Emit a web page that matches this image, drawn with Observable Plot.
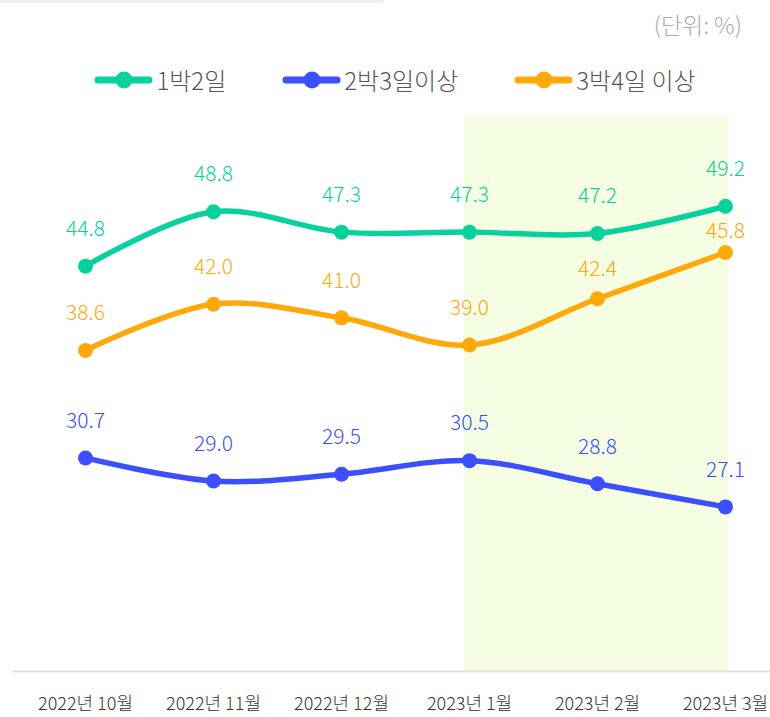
<!DOCTYPE html>
<html><head><meta charset="utf-8">
<script src="https://cdn.jsdelivr.net/npm/d3@7"></script>
<script src="https://cdn.jsdelivr.net/npm/@observablehq/plot@0.6"></script>
<style>
body{margin:0;background:#fff;font-family:"Noto Sans CJK KR","Noto Sans",sans-serif;}
#wrap{position:relative;width:770px;}
#topbar{position:absolute;left:0;top:0;width:383px;height:3px;background:#efefef;}
#head{position:relative;height:100px;}
#unit{position:absolute;right:28px;top:4px;font-size:23px;font-weight:300;color:#aaa;line-height:40px;}
#legend{position:absolute;top:60px;left:10px;width:770px;display:flex;justify-content:center;}
.item{display:flex;align-items:center;font-size:24px;font-weight:300;color:#555;margin:0 28px;line-height:40px;}
.item svg{margin-right:3px;}
</style></head>
<body><div id="wrap"><div id="topbar"></div><div id="head"><div id="unit">(단위: %)</div><div id="legend"></div></div><div id="chart"></div></div>
<script>
const categories = ["2022년 10월","2022년 11월","2022년 12월","2023년 1월","2023년 2월","2023년 3월"];
const seriesNames = ["1박2일","2박3일이상","3박4일 이상"];
const values1 = [44.8,48.8,47.3,47.3,47.2,49.2];
const values2 = [30.7,29.0,29.5,30.5,28.8,27.1];
const values3 = [38.6,42.0,41.0,39.0,42.4,45.8];
const colors = ["#08d19d","#3b4ffc","#ffa80a"];
const highlightRange = ["2023년 1월","2023년 3월"];

const allValues = [values1, values2, values3];
const data = [];
seriesNames.forEach((s, i) => categories.forEach((c, j) => data.push({series: s, month: c, value: allValues[i][j], idx: j})));

// legend
const legend = document.getElementById("legend");
seriesNames.forEach((s, i) => {
  const d = document.createElement("div");
  d.className = "item";
  d.innerHTML = `<svg width="59" height="20"><line x1="4" y1="10" x2="55" y2="10" stroke="${colors[i]}" stroke-width="7" stroke-linecap="round"/><circle cx="30" cy="10" r="8.5" fill="${colors[i]}"/></svg><span>${s}</span>`;
  legend.appendChild(d);
});

const font = '"Noto Sans CJK KR","Noto Sans",sans-serif';
const isShift = d => d.series === seriesNames[2] && d.idx >= 4;

const chart = Plot.plot({
  width: 770,
  height: 617,
  marginTop: 16,
  marginBottom: 46,
  marginLeft: 13,
  marginRight: 0,
  style: {fontFamily: font, background: "#fff"},
  x: {type: "point", domain: categories, range: [83, 726], padding: 0, label: null},
  y: {domain: [15, 55.8], axis: null},
  color: {domain: seriesNames, range: colors},
  marks: [
    Plot.rect([highlightRange], {x1: d => d[0], x2: d => d[1], y1: 15, y2: 55.8, insetLeft: -5, insetRight: -3, fill: "#f5fde3"}),
    Plot.ruleY([15], {stroke: "#dedede", strokeWidth: 2}),
    Plot.axisX({tickSize: 0, tickPadding: 26, fontSize: 18, fontWeight: 300, fill: "#333", label: null}),
    Plot.line(data, {x: "month", y: "value", z: "series", stroke: "series", strokeWidth: 5.5, curve: "catmull-rom"}),
    Plot.dot(data, {x: "month", y: "value", fill: "series", r: 7.5}),
    Plot.text(data.filter(d => !isShift(d)), {x: "month", y: "value", text: d => d.value.toFixed(1), fill: "series", dy: -37, fontSize: 21, fontWeight: 300}),
    Plot.text(data.filter(d => isShift(d) && d.idx === 4), {x: "month", y: "value", text: d => d.value.toFixed(1), fill: "series", dy: -30, fontSize: 21, fontWeight: 300}),
    Plot.text(data.filter(d => isShift(d) && d.idx === 5), {x: "month", y: "value", text: d => d.value.toFixed(1), fill: "series", dy: -21, fontSize: 21, fontWeight: 300})
  ]
});
document.getElementById("chart").appendChild(chart);
</script></body></html>
